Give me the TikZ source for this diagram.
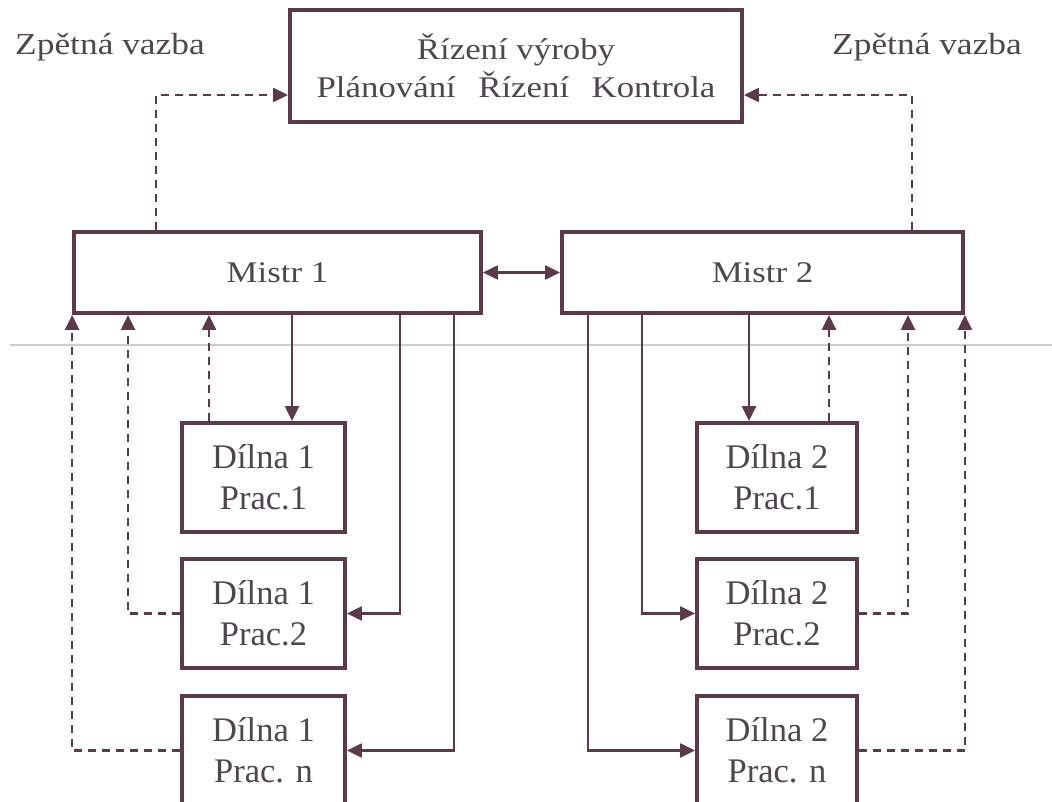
\documentclass[tikz,border=0pt]{standalone}
\usepackage{fontspec}
\setmainfont{Liberation Serif}
\newfontfamily\widefont{Liberation Serif}[FakeStretch=1.16]
\usetikzlibrary{arrows.meta}
\definecolor{ln}{RGB}{92,58,76}
\definecolor{tx}{RGB}{78,72,78}
\definecolor{crease}{RGB}{205,205,205}
\tikzset{
  mytip/.tip={Triangle[length=15pt,width=14pt]},
  box/.style={draw=ln, line width=3.8pt, fill=white, inner sep=0pt, align=center, text=tx},
  bigbox/.style={box, font=\widefont\fontsize{30}{38}\selectfont},
  shop/.style={box, minimum width=163pt, minimum height=109pt, font=\fontsize{34.5}{41}\selectfont},
  lbl/.style={text=tx, font=\widefont\fontsize{30.5}{35}\selectfont, inner sep=0pt},
  ctl/.style={draw=ln, line width=2.2pt, -mytip},
  fb/.style={ctl, dash pattern=on 8pt off 6pt},
  creaseline/.style={draw=crease, line width=1.5pt}
}
\begin{document}
\begin{tikzpicture}[x=1pt,y=-1pt]
\useasboundingbox (0,0) rectangle (1052,802);
\clip (0,0) rectangle (1052,802);
\draw[creaseline] (10,345) -- (1052,345);

\node[bigbox, minimum width=452pt, minimum height=112pt] (top) at (516,66)
  {Řízení výroby\\Plánování\hspace{0.75em}Řízení\hspace{0.75em}Kontrola};
\node[bigbox, minimum width=407pt, minimum height=81pt] (m1) at (277.5,272.5) {Mistr 1};
\node[bigbox, minimum width=401pt, minimum height=81pt] (m2) at (762.5,272.5) {Mistr 2};

\node[shop] (a1) at (263.5,477.5) {Dílna 1\\Prac.1};
\node[shop] (a2) at (263.5,613.5) {Dílna 1\\Prac.2};
\node[shop] (an) at (263.5,750.5) {Dílna 1\\Prac. n};
\node[shop, minimum width=160pt] (b1) at (777,477.5) {Dílna 2\\Prac.1};
\node[shop, minimum width=160pt] (b2) at (777,613.5) {Dílna 2\\Prac.2};
\node[shop, minimum width=160pt] (bn) at (777,750.5) {Dílna 2\\Prac. n};

\node[lbl] (lz) at (110,47) {Zpětná vazba};
\node[lbl] (rz) at (927,47) {Zpětná vazba};

\coordinate (tl) at (156,95);
\coordinate (tr) at (912,95);
\coordinate (p1) at (292,0);
\coordinate (p2) at (400,0);
\coordinate (p3) at (454,0);
\coordinate (q1) at (209,0);
\coordinate (q2) at (128,0);
\coordinate (s1) at (749,0);
\coordinate (s2) at (642,0);
\coordinate (s3) at (588,0);
\coordinate (u1) at (829,0);
\coordinate (u2) at (908,0);

\draw[fb] (m1.north -| tl) |- (top.west |- tl);
\draw[fb] (m2.north -| tr) |- (top.east |- tr);
\draw[ctl, mytip-mytip] (m1.east) -- (m2.west);

\draw[ctl] (m1.south -| p1) -- (a1.north -| p1);
\draw[ctl] (m1.south -| p2) |- (a2.east);
\draw[ctl] (m1.south -| p3) |- (an.east);
\draw[fb] (a1.north -| q1) -- (m1.south -| q1);
\draw[fb] (a2.west) -| (m1.south -| q2);
\draw[fb] (an.west) -| (m1.south west);

\draw[ctl] (m2.south -| s1) -- (b1.north -| s1);
\draw[ctl] (m2.south -| s2) |- (b2.west);
\draw[ctl] (m2.south -| s3) |- (bn.west);
\draw[fb] (b1.north -| u1) -- (m2.south -| u1);
\draw[fb] (b2.east) -| (m2.south -| u2);
\draw[fb] (bn.east) -| (m2.south east);
\end{tikzpicture}
\end{document}
